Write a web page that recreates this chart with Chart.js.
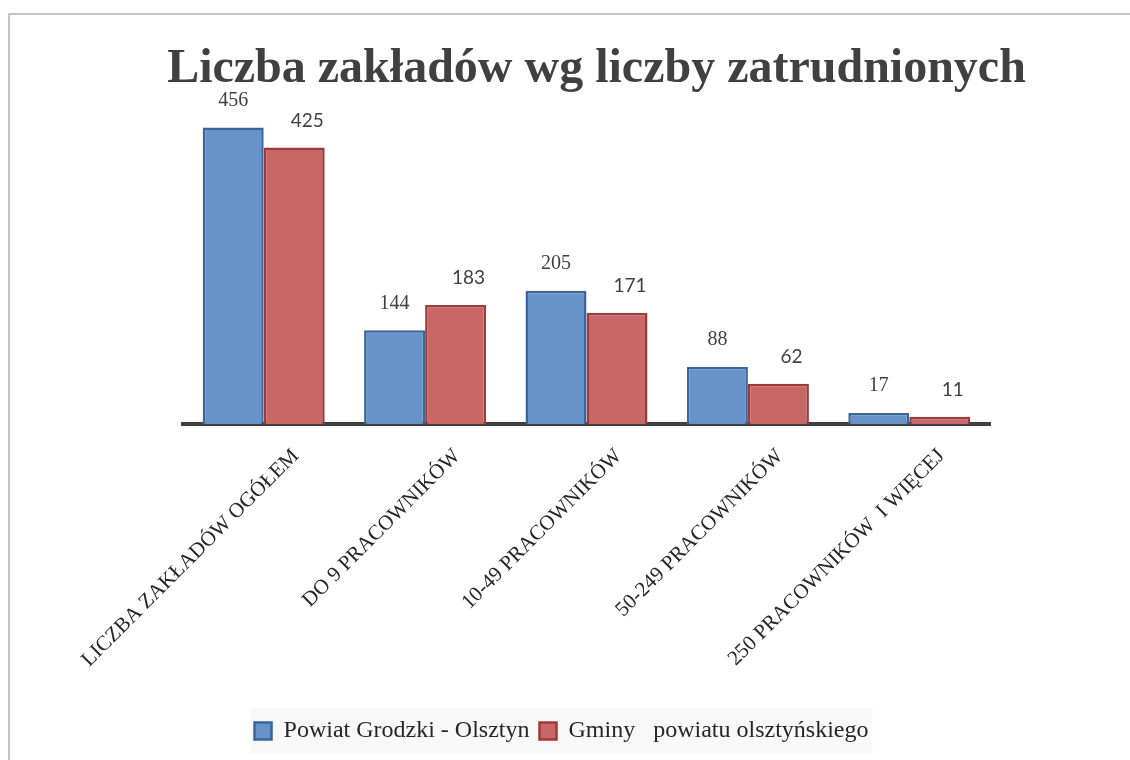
<!DOCTYPE html>
<html>
<head>
<meta charset="utf-8">
<script src="https://cdn.jsdelivr.net/npm/chart.js@4.4.1/dist/chart.umd.min.js"></script>
<style>
  html, body { margin: 0; padding: 0; background: #ffffff; overflow: hidden; }
  #frame { position: absolute; left: 8px; top: 13px; width: 1200px; height: 800px; border-left: 2px solid #c3c3c3; border-top: 2px solid #c3c3c3; }
  #wrap { position: absolute; left: 0; top: 0; width: 1130px; height: 760px; }
</style>
</head>
<body>
<div id="frame"></div>
<div id="wrap"><canvas id="c" width="1130" height="760"></canvas></div>
<script>
const categories = [
  "LICZBA ZAKŁADÓW OGÓŁEM",
  "DO 9 PRACOWNIKÓW",
  "10-49 PRACOWNIKÓW",
  "50-249 PRACOWNIKÓW",
  "250 PRACOWNIKÓW  I WIĘCEJ"
];
const seriesNames = ["Powiat Grodzki - Olsztyn", "Gminy   powiatu olsztyńskiego"];
const olsztyn = [456, 144, 205, 88, 17];
const gminy = [425, 183, 171, 62, 11];
const chartTitle = "Liczba zakładów wg liczby zatrudnionych";

const valueLabels = {
  id: 'valueLabels',
  afterDatasetsDraw(chart) {
    const ctx = chart.ctx;
    const styles = [
      { font: '20px "Liberation Serif"', dx: 0 },
      { font: '19px Lato', dx: 13 }
    ];
    chart.data.datasets.forEach((ds, di) => {
      const meta = chart.getDatasetMeta(di);
      ctx.save();
      ctx.font = styles[di].font;
      ctx.fillStyle = '#404040';
      ctx.textAlign = 'center';
      ctx.textBaseline = 'middle';
      meta.data.forEach((bar, i) => {
        ctx.fillText(String(ds.data[i]), bar.x + styles[di].dx, bar.y - 27);
      });
      ctx.restore();
    });
  }
};

const legendBg = {
  id: 'legendBg',
  afterLayout(chart) {
    const lg = chart.legend;
    if (lg) { lg.left -= 35; lg.right -= 35; }
  },
  beforeDraw(chart) {
    const lg = chart.legend;
    if (!lg || !lg.legendHitBoxes || !lg.legendHitBoxes.length) return;
    const hb = lg.legendHitBoxes;
    let l = Infinity, r = -Infinity, t = Infinity, b = -Infinity;
    hb.forEach(h => { l = Math.min(l, h.left); r = Math.max(r, h.left + h.width); t = Math.min(t, h.top); b = Math.max(b, h.top + h.height); });
    const ctx = chart.ctx;
    ctx.save();
    ctx.fillStyle = '#f8f8f8';
    const cy = (t + b) / 2;
    ctx.fillRect(l - 4, cy - 23, (r - l) + 8, 46);
    ctx.restore();
  }
};

const hiddenAxis = (pos, w) => ({
  position: pos,
  display: true,
  grid: { display: false, drawTicks: false },
  border: { display: false },
  ticks: { display: false },
  afterFit(scale) { scale.width = w; }
});

new Chart(document.getElementById('c'), {
  type: 'bar',
  data: {
    labels: categories,
    datasets: [
      { label: seriesNames[0], data: olsztyn, backgroundColor: '#6794c8', borderColor: '#3b6499', borderWidth: 2.5, borderSkipped: 'start' },
      { label: seriesNames[1], data: gminy, backgroundColor: '#c96767', borderColor: '#9c3b3a', borderWidth: 2.5, borderSkipped: 'start' }
    ]
  },
  options: {
    responsive: false,
    animation: false,
    devicePixelRatio: 1,
    layout: { padding: { left: 160, right: 97, top: 0, bottom: 7 } },
    datasets: { bar: { barPercentage: 1.0, categoryPercentage: 0.756 } },
    scales: {
      x: {
        grid: { display: false, drawTicks: false },
        border: { display: true, color: '#404040', width: 4 },
        ticks: {
          autoSkip: false, minRotation: 45, maxRotation: 45,
          font: { family: '"Liberation Serif"', size: 21 },
          color: '#262626', padding: 20, labelOffset: 32
        },
        afterFit(scale) { scale.height = 285; }
      },
      y: Object.assign(hiddenAxis('right', 43), { min: 0, max: 496 }),
      yLeft: hiddenAxis('left', 23)
    },
    plugins: {
      title: {
        display: true, text: chartTitle,
        font: { family: '"Liberation Serif"', size: 48, weight: 'bold' },
        color: '#404040',
        padding: { top: 41, bottom: 2.8 }
      },
      legend: {
        position: 'bottom',
        labels: {
          boxWidth: 17, boxHeight: 17,
          font: { family: '"Liberation Serif"', size: 24 },
          color: '#262626', padding: 10
        }
      },
      tooltip: { enabled: false }
    }
  },
  plugins: [valueLabels, legendBg]
});
</script>
</body>
</html>
